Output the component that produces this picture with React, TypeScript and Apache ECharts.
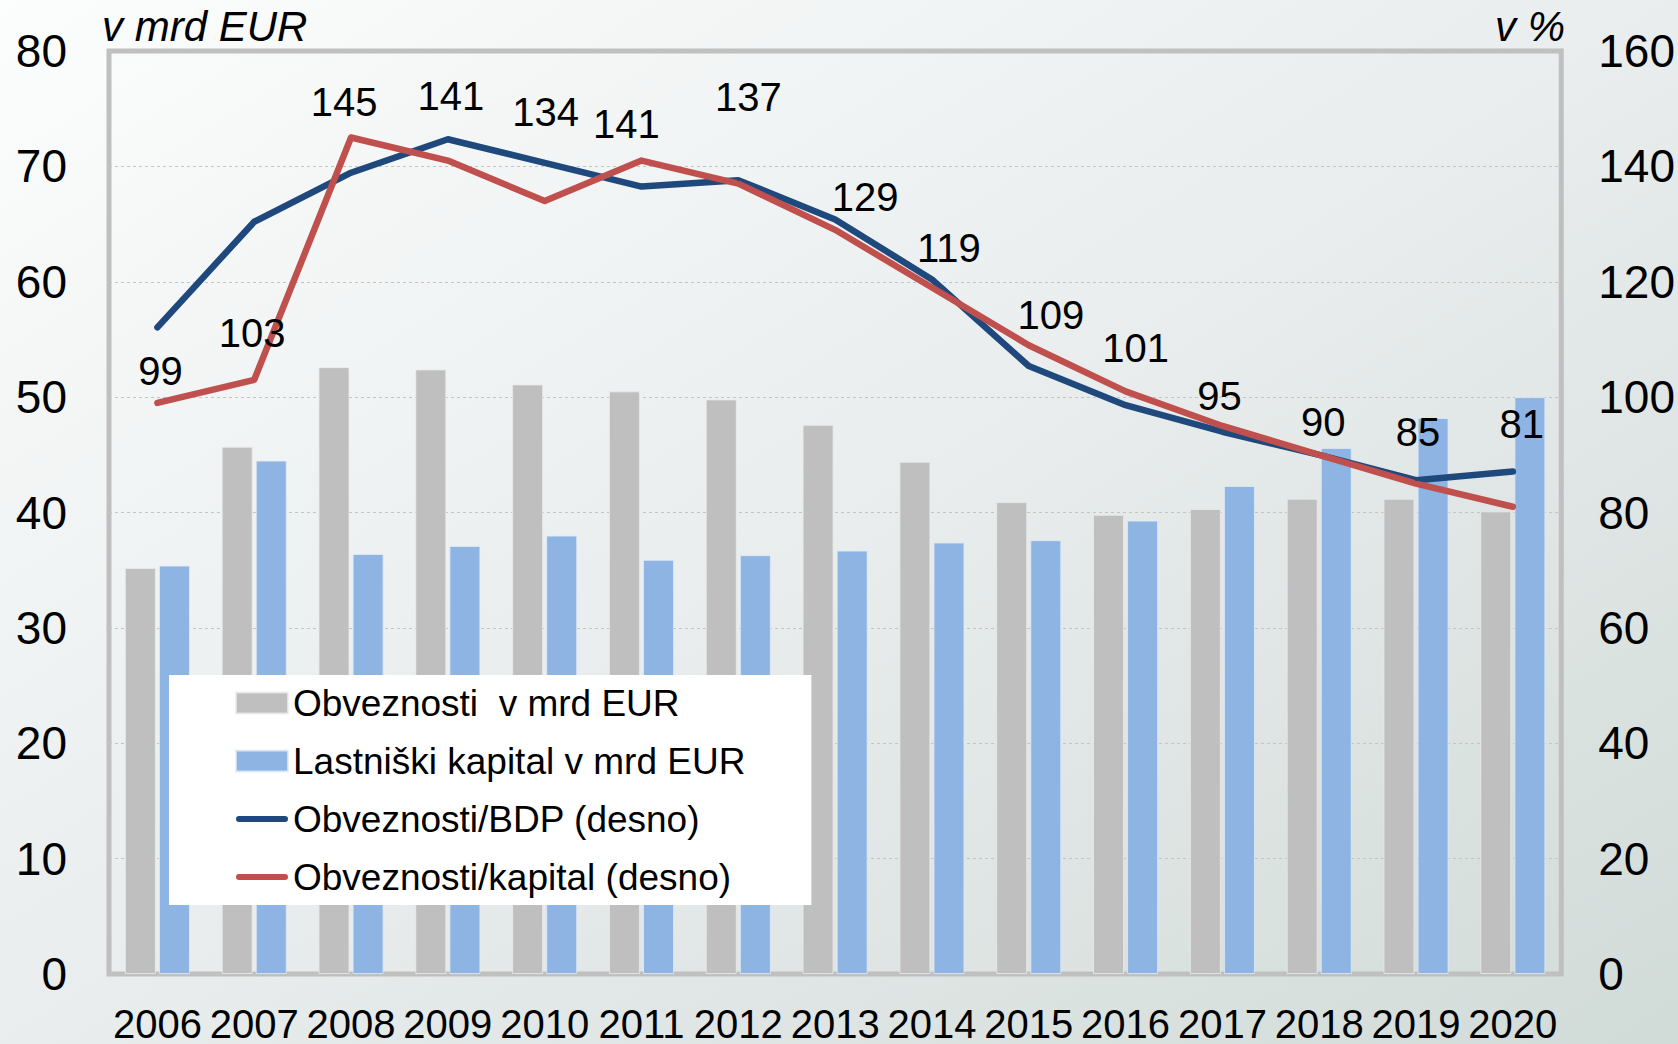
import React, { useEffect, useRef } from "react";
import * as echarts from "echarts";

const years = ["2006", "2007", "2008", "2009", "2010", "2011", "2012", "2013", "2014", "2015", "2016", "2017", "2018", "2019", "2020"];
const obveznosti = [35.2, 45.7, 52.6, 52.4, 51.1, 50.5, 49.8, 47.6, 44.4, 40.9, 39.8, 40.3, 41.2, 41.2, 40.1];
const kapital = [35.4, 44.5, 36.4, 37.1, 38.0, 35.9, 36.3, 36.7, 37.4, 37.6, 39.3, 42.3, 45.6, 48.2, 50.0];
const obvBdp = [112.1, 130.4, 138.9, 144.7, 140.6, 136.5, 137.6, 130.8, 120.4, 105.4, 98.6, 94.0, 90.0, 85.6, 87.1];
const obvKapital = [99, 103, 145, 141, 134, 141, 137, 129, 119, 109, 101, 95, 90, 85, 81];

const seriesNames = ["Obveznosti  v mrd EUR", "Lastniški kapital v mrd EUR", "Obveznosti/BDP (desno)", "Obveznosti/kapital (desno)"];
const leftAxis = { min: 0, max: 80, interval: 10 };
const rightAxis = { min: 0, max: 160, interval: 20 };

// label placement offsets (px) relative to each point of Obveznosti/kapital
const labelOffsets: number[][] = [
  [3, -32], [-2, -47], [-7, -36], [3, -65], [1, -89], [-15, -37], [10, -87], [30, -33],
  [17, -40], [22, -30], [10, -43], [-3, -30], [4, -33], [2, -52], [9, -83],
];

const FONT = "'Liberation Sans', Arial, sans-serif";
const LINE_ICON = "path://M3,0 L49,0 A3,3 0 0 1 49,6 L3,6 A3,3 0 0 1 3,0 Z";

export default function App() {
  const ref = useRef<HTMLDivElement>(null);
  useEffect(() => {
    document.body.style.margin = "0";
    if (!ref.current) return;
    const chart = echarts.init(ref.current, null, { renderer: "svg" });
    chart.setOption({
      animation: false,
      backgroundColor: "transparent",
      textStyle: { fontFamily: FONT },
      grid: {
        left: 109,
        top: 51,
        width: 1456,
        height: 927,
        show: true,
        borderColor: "#bfbfbf",
        borderWidth: 5,
        backgroundColor: "transparent",
      },
      legend: {
        orient: "vertical",
        left: 169,
        top: 675,
        backgroundColor: "#ffffff",
        padding: [8, 66, 8, 66],
        itemWidth: 52,
        itemHeight: 21,
        itemGap: 18,
        textStyle: { fontSize: 37, color: "#000", fontFamily: FONT, lineHeight: 40 },
        data: [
          { name: seriesNames[0], icon: "rect" },
          { name: seriesNames[1], icon: "rect" },
          { name: seriesNames[2], icon: LINE_ICON },
          { name: seriesNames[3], icon: LINE_ICON },
        ],
      },
      xAxis: {
        type: "category",
        data: years,
        axisLine: { show: false },
        axisTick: { show: false },
        axisLabel: { interval: 0, fontSize: 40, lineHeight: 34, color: "#000", margin: 33, fontFamily: FONT },
      },
      yAxis: [
        {
          type: "value",
          position: "left",
          ...leftAxis,
          axisLine: { show: false },
          axisTick: { show: false },
          axisLabel: { fontSize: 46, color: "#000", margin: 42, fontFamily: FONT },
          splitLine: { show: true, lineStyle: { color: "#c4c4c4", type: [3, 3], width: 1.2 } },
        },
        {
          type: "value",
          position: "right",
          ...rightAxis,
          axisLine: { show: false },
          axisTick: { show: false },
          axisLabel: { fontSize: 46, color: "#000", margin: 37, fontFamily: FONT },
          splitLine: { show: false },
        },
      ],
      series: [
        {
          name: seriesNames[0],
          type: "bar",
          yAxisIndex: 0,
          data: obveznosti,
          barWidth: 31,
          barGap: "10%",
          itemStyle: { color: "#bfbfbf", borderColor: "rgba(235,235,235,0.8)", borderWidth: 1 },
        },
        {
          name: seriesNames[1],
          type: "bar",
          yAxisIndex: 0,
          data: kapital,
          barWidth: 31,
          barGap: "10%",
          itemStyle: { color: "#8eb4e3", borderColor: "rgba(225,235,245,0.8)", borderWidth: 1 },
        },
        {
          name: seriesNames[2],
          type: "line",
          yAxisIndex: 1,
          data: obvBdp,
          symbol: "circle",
          symbolSize: 2,
          itemStyle: { color: "#1f497d" },
          lineStyle: { color: "#1f497d", width: 6.5, cap: "round", join: "round" },
        },
        {
          name: seriesNames[3],
          type: "line",
          yAxisIndex: 1,
          data: obvKapital.map((v, i) => ({ value: v, label: { offset: labelOffsets[i] } })),
          symbol: "circle",
          symbolSize: 2,
          itemStyle: { color: "#c0504d" },
          lineStyle: { color: "#c0504d", width: 6.5, cap: "round", join: "round" },
          label: {
            show: true,
            position: "inside",
            fontSize: 40,
            color: "#000",
            fontFamily: FONT,
            formatter: (p: any) => String(p.value),
          },
        },
      ],
      graphic: [
        {
          type: "text",
          left: 102,
          top: 5,
          style: { text: "v mrd EUR", font: `italic 42px ${FONT}`, fill: "#000" },
        },
        {
          type: "text",
          right: 113,
          top: 5,
          style: { text: "v %", font: `italic 42px ${FONT}`, fill: "#000" },
        },
      ],
    });
    return () => chart.dispose();
  }, []);
  return (
    <div
      ref={ref}
      style={{
        width: 1678,
        height: 1044,
        background: "linear-gradient(to bottom right, #fcfdfd 0%, #e9eded 50%, #d1dbd8 100%)",
      }}
    />
  );
}
